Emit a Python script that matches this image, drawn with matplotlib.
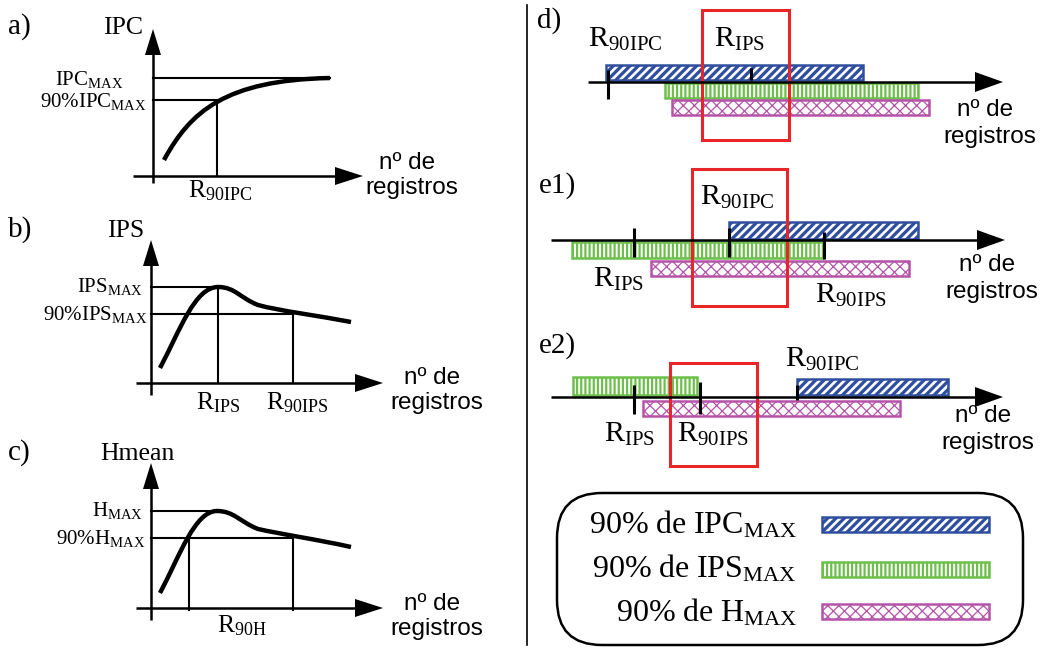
import numpy as np
import matplotlib
matplotlib.use("Agg")
import matplotlib.pyplot as plt
from matplotlib.patches import Rectangle, Polygon, FancyBboxPatch, PathPatch
from matplotlib.path import Path

plt.rcParams['font.family'] = 'Liberation Serif'
plt.rcParams['mathtext.fontset'] = 'custom'
plt.rcParams['mathtext.rm'] = 'Liberation Serif'
plt.rcParams['mathtext.it'] = 'Liberation Serif:italic'
plt.rcParams['mathtext.bf'] = 'Liberation Serif:bold'

# colours of the three metrics
c_ipc = '#2f4f9e'
c_ips = '#6cbf4a'
c_h = '#b553a9'
c_red = '#e8262a'

# ---- left panels: curves (bezier control points, sketch units) ----
curve_ipc = [(164, 160), (190, 112), (225, 80), (330, 78)]
curve_ips = [(160, 368), (180, 330), (195, 287), (218, 287),
             (235, 287), (240, 298), (258, 305),
             (280, 311), (320, 316), (351, 322)]
curve_h = [(160, 593), (180, 555), (195, 511), (217, 511),
           (234, 511), (240, 522), (258, 529),
           (280, 534), (320, 540), (351, 547)]

# levels (max, 90%) and marked positions on the x axis
levels_a = [78, 100]
levels_b = [287, 314]
levels_c = [511, 538]
marks_a = [217]
marks_b = [218, 293]
marks_c = [189, 293]

# ---- right panels: intervals of each metric ----
d_ipc, d_ips, d_h = [606, 863], [665, 918], [672, 929]
e1_ipc, e1_ips, e1_h = [729, 918], [572, 823], [651, 909]
e2_ipc, e2_ips, e2_h = [797, 948], [573, 697], [643, 900]

d_ticks = [608, 751]
e1_ticks = [634, 729, 824]
e2_ticks = [634, 700, 797]

d_window = [702, 789]
e1_window = [692, 787]
e2_window = [670, 757]

legend_labels = [r'$\mathrm{90\%\ de\ IPC}_{\mathrm{MAX}}$',
                 r'$\mathrm{90\%\ de\ IPS}_{\mathrm{MAX}}$',
                 r'$\mathrm{90\%\ de\ H}_{\mathrm{MAX}}$']


fig = plt.figure(figsize=(10.49, 6.49), dpi=100)
ax = fig.add_axes([0, 0, 1, 1])
ax.set_xlim(0, 1049)
ax.set_ylim(649, 0)
ax.axis('off')


def harrow(x0, x1, y, lw=1.8, hl=28, hw=9):
    ax.plot([x0, x1 - hl + 2], [y, y], color='black', lw=lw, solid_capstyle='butt')
    ax.add_patch(Polygon([(x1 - hl, y - hw), (x1, y), (x1 - hl, y + hw)],
                         closed=True, color='black', lw=0))


def varrow(x, y0, y1, lw=1.8, hl=26, hw=8):
    ax.plot([x, x], [y0, y1 + hl - 2], color='black', lw=lw, solid_capstyle='butt')
    ax.add_patch(Polygon([(x - hw, y1 + hl), (x, y1), (x + hw, y1 + hl)],
                         closed=True, color='black', lw=0))


def curve(pts):
    codes = [Path.MOVETO] + [Path.CURVE4] * (len(pts) - 1)
    ax.add_patch(PathPatch(Path(pts, codes), fill=False, lw=3.2,
                           edgecolor='black', capstyle='butt'))


def bar(xs, y0, y1, kind):
    w = xs[1] - xs[0]
    h = y1 - y0
    if kind == 'ipc':
        p = Rectangle((xs[0], y0), w, h, facecolor=c_ipc, edgecolor='white',
                      hatch='////', lw=0)
        if hasattr(p, 'set_hatch_linewidth'):
            p.set_hatch_linewidth(1.9)
        ax.add_patch(p)
        ax.add_patch(Rectangle((xs[0], y0), w, h, fill=False, edgecolor=c_ipc, lw=1.8))
    elif kind == 'ips':
        p = Rectangle((xs[0], y0), w, h, facecolor='white', edgecolor=c_ips,
                      hatch='||||', lw=1.8)
        if hasattr(p, 'set_hatch_linewidth'):
            p.set_hatch_linewidth(1.6)
        ax.add_patch(p)
    else:
        p = Rectangle((xs[0], y0), w, h, facecolor='white', edgecolor=c_h,
                      hatch='xxx', lw=1.8)
        if hasattr(p, 'set_hatch_linewidth'):
            p.set_hatch_linewidth(0.9)
        ax.add_patch(p)


def tick(x, y0, y1):
    ax.plot([x, x], [y0, y1], color='black', lw=2.2, solid_capstyle='butt')


def txt(x, y, s, size, ha='left', sans=False):
    fam = 'Liberation Sans' if sans else 'Liberation Serif'
    ax.text(x, y, s, fontsize=size, ha=ha, va='baseline', family=fam)


def registros(x, y, size=17.5, gap=24):
    txt(x - 5, y, 'nº de', size, ha='center', sans=True)
    txt(x, y + gap, 'registros', size, ha='center', sans=True)


# ---------------- panel a ----------------
varrow(153, 183, 29)
harrow(133, 363, 176)
ax.plot([153, 330], [levels_a[0]] * 2, color='black', lw=1.5)
ax.plot([153, marks_a[0]], [levels_a[1]] * 2, color='black', lw=1.5)
ax.plot([marks_a[0]] * 2, [levels_a[1], 176], color='black', lw=1.5)
curve(curve_ipc)
txt(8, 34, 'a)', 21)
txt(103, 34, 'IPC', 18.5)
txt(124, 85, r'$\mathrm{IPC}_{\mathrm{MAX}}$', 15, ha='right')
txt(147, 107, r'$\mathrm{90\%IPC}_{\mathrm{MAX}}$', 15, ha='right')
txt(220, 197, r'$\mathrm{R}_{\mathrm{90IPC}}$', 18.5, ha='center')
registros(412, 169, gap=25)

# ---------------- panel b ----------------
varrow(151, 395, 240)
harrow(136, 383, 383)
ax.plot([151, marks_b[0]], [levels_b[0]] * 2, color='black', lw=1.5)
ax.plot([151, marks_b[1]], [levels_b[1]] * 2, color='black', lw=1.5)
for m, lv in zip(marks_b, levels_b):
    ax.plot([m, m], [lv, 383], color='black', lw=1.5)
curve(curve_ips)
txt(8, 237, 'b)', 21)
txt(107, 237, 'IPS', 18.5)
txt(143, 292, r'$\mathrm{IPS}_{\mathrm{MAX}}$', 15, ha='right')
txt(147, 320, r'$\mathrm{90\%IPS}_{\mathrm{MAX}}$', 15, ha='right')
txt(218, 409, r'$\mathrm{R}_{\mathrm{IPS}}$', 18.5, ha='center')
txt(297, 409, r'$\mathrm{R}_{\mathrm{90IPS}}$', 18.5, ha='center')
registros(437, 384, gap=25)

# ---------------- panel c ----------------
varrow(151, 620, 463)
harrow(136, 383, 608)
ax.plot([151, 217], [levels_c[0]] * 2, color='black', lw=1.5)
ax.plot([151, marks_c[1]], [levels_c[1]] * 2, color='black', lw=1.5)
for m in marks_c:
    ax.plot([m, m], [levels_c[1], 610], color='black', lw=1.5)
curve(curve_h)
txt(8, 460, 'c)', 21)
txt(100, 460, 'Hmean', 18.5)
txt(143, 516, r'$\mathrm{H}_{\mathrm{MAX}}$', 15, ha='right')
txt(145, 544, r'$\mathrm{90\%H}_{\mathrm{MAX}}$', 15, ha='right')
txt(242, 632, r'$\mathrm{R}_{\mathrm{90H}}$', 18.5, ha='center')
registros(437, 610, gap=25)

# divider
ax.plot([527, 527], [5, 645], color='black', lw=1.2)

# ---------------- panel d ----------------
harrow(588, 1003, 82, hw=10)
bar(d_ipc, 65, 80, 'ipc')
bar(d_ips, 83, 98, 'ips')
bar(d_h, 100, 115, 'h')
tick(d_ticks[0], 70, 99)
tick(d_ticks[1], 68, 80)
ax.add_patch(Rectangle((d_window[0], 10), d_window[1] - d_window[0], 130,
                       fill=False, edgecolor=c_red, lw=2.2))
txt(537, 28, 'd)', 21)
txt(588, 47, r'$\mathrm{R}_{\mathrm{90IPC}}$', 21.5)
txt(714, 47, r'$\mathrm{R}_{\mathrm{IPS}}$', 21.5)
registros(990, 116, gap=27)

# ---------------- panel e1 ----------------
harrow(551, 1005, 240, hw=10)
bar(e1_ipc, 222, 239, 'ipc')
bar(e1_ips, 242, 258, 'ips')
bar(e1_h, 261, 276, 'h')
tick(e1_ticks[0], 228, 257)
tick(e1_ticks[1], 228, 257)
tick(e1_ticks[2], 232, 259)
ax.add_patch(Rectangle((e1_window[0], 169), e1_window[1] - e1_window[0], 137,
                       fill=False, edgecolor=c_red, lw=2.2))
txt(539, 193, 'e1)', 21)
txt(700, 205, r'$\mathrm{R}_{\mathrm{90IPC}}$', 21.5)
txt(593, 287, r'$\mathrm{R}_{\mathrm{IPS}}$', 21.5)
txt(815, 303, r'$\mathrm{R}_{\mathrm{90IPS}}$', 21.5)
registros(992, 271, gap=27)

# ---------------- panel e2 ----------------
harrow(551, 1003, 397, hw=10)
bar(e2_ips, 377, 395, 'ips')
bar(e2_ipc, 379, 395, 'ipc')
bar(e2_h, 401, 416, 'h')
tick(e2_ticks[0], 385, 414)
tick(e2_ticks[1], 382, 414)
tick(e2_ticks[2], 385, 400)
ax.add_patch(Rectangle((e2_window[0], 363), e2_window[1] - e2_window[0], 103,
                       fill=False, edgecolor=c_red, lw=2.2))
txt(539, 353, 'e2)', 21)
txt(785, 367, r'$\mathrm{R}_{\mathrm{90IPC}}$', 21.5)
txt(604, 442, r'$\mathrm{R}_{\mathrm{IPS}}$', 21.5)
txt(677, 442, r'$\mathrm{R}_{\mathrm{90IPS}}$', 21.5)
registros(988, 422, gap=27)

# ---------------- legend box ----------------
ax.add_patch(FancyBboxPatch((557, 493), 466, 152,
                            boxstyle='round,pad=0,rounding_size=45',
                            fill=False, edgecolor='black', lw=1.8))
leg_y = [533, 578, 622]
leg_kinds = ['ipc', 'ips', 'h']
leg_bars = [(517, 532), (562, 577), (604, 619)]
for lab, yb, kind, (b0, b1) in zip(legend_labels, leg_y, leg_kinds, leg_bars):
    txt(797, yb, lab, 23, ha='right')
    bar([822, 989], b0, b1, kind)

fig.savefig('out.png', dpi=100)
